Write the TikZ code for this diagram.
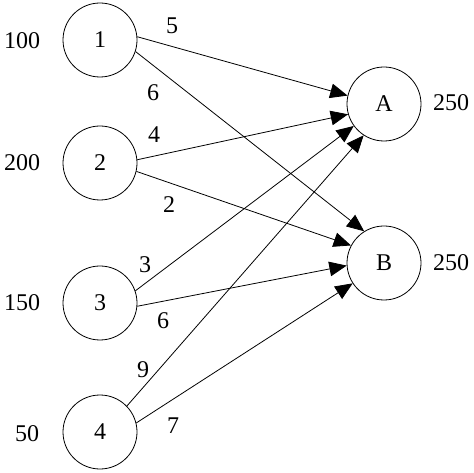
\documentclass[tikz,border=0pt]{standalone}
\usepackage{fontspec}
\setmainfont{Liberation Serif}
\usetikzlibrary{positioning, arrows.meta}

\begin{document}
\begin{tikzpicture}[x=0.75pt, y=-0.75pt, line width=.6pt, font=\fontsize{18}{20}\selectfont,
        stn/.style={draw, circle, minimum size=55.5pt, inner sep=0pt},
        flow/.style={-{Triangle[length=13pt, width=11pt]}}]
        \useasboundingbox (0,0) rectangle (474,473);

        %SOURCES
        \node[stn] (s1) at (100,40)  {1};
        \node[stn] (s2) at (100,163) {2};
        \node[stn] (s3) at (100,303) {3};
        \node[stn] (s4) at (100,432) {4};

        %DESTINATIONS
        \node[stn] (A) at (384,104) {A};
        \node[stn] (B) at (384,263) {B};

        %SUPPLY AND DEMAND
        \node[] (sup1) at (22,41)  {100};
        \node[] (sup2) at (22,163) {200};
        \node[] (sup3) at (22,303) {150};
        \node[] (sup4) at (27,434) {50};
        \node[] (demA) at (451,103) {250};
        \node[] (demB) at (451,263) {250};

        %ARCS (BORDER ANGLES READ OFF BY EYE)
        \draw[flow] (s1.5)   -- (A.167);
        \draw[flow] (s1.-18) -- (B.122);
        \draw[flow] (s2.5)   -- (A.196);
        \draw[flow] (s2.-13) -- (B.152);
        \draw[flow] (s3.19)  -- (A.216);
        \draw[flow] (s3.-5)  -- (B.184);
        \draw[flow] (s4.44)  -- (A.237);
        \draw[flow] (s4.14)  -- (B.213);

        % COSTS (PLACED BY HAND)
        \node[] (c1A) at (172,26)  {5};
        \node[] (c1B) at (153,93)  {6};
        \node[] (c2A) at (154,135) {4};
        \node[] (c2B) at (169,205) {2};
        \node[] (c3A) at (145,265) {3};
        \node[] (c3B) at (163,321) {6};
        \node[] (c4A) at (143,370) {9};
        \node[] (c4B) at (173,426) {7};

\end{tikzpicture}
\end{document}
